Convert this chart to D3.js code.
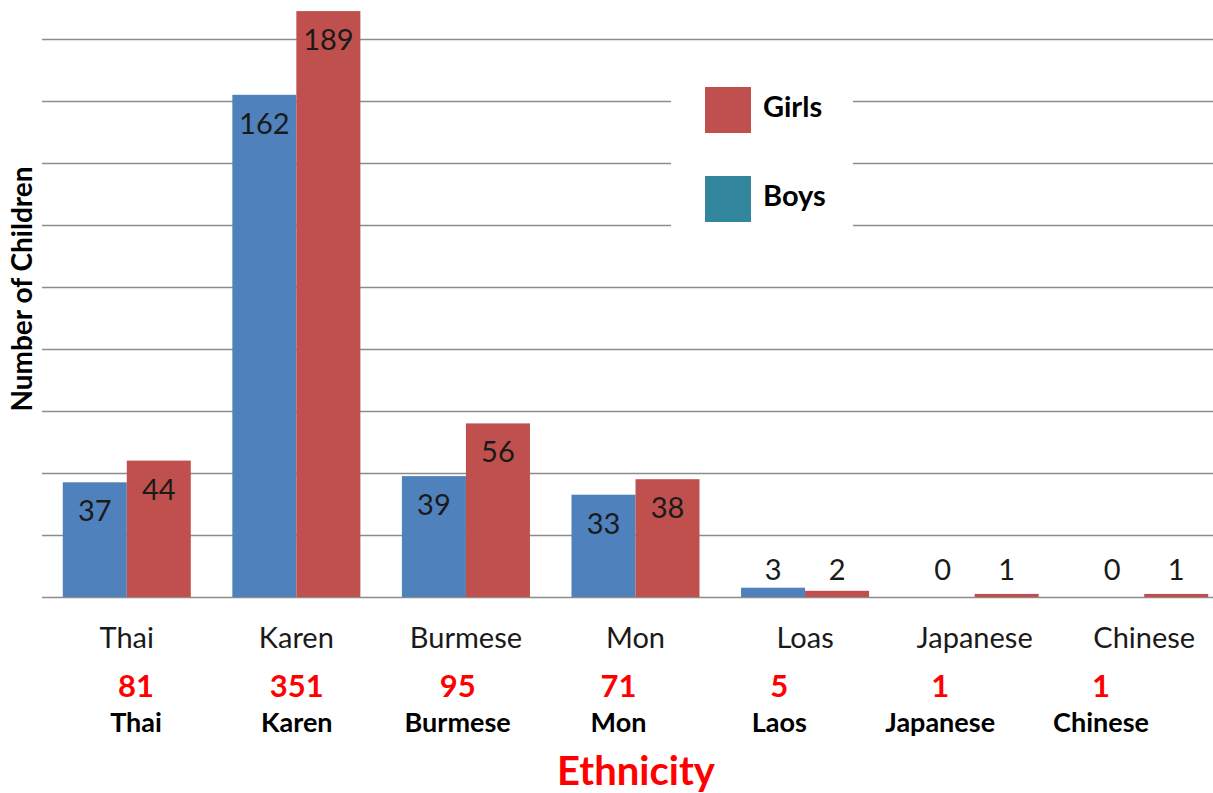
<!DOCTYPE html>
<html>
<head>
<meta charset="utf-8">
<script src="https://cdn.jsdelivr.net/npm/d3@7"></script>
<style>
  body { margin: 0; background: #fff; }
  svg { display: block; font-family: Lato, 'Noto Sans', sans-serif; }
</style>
</head>
<body>
<script>
var categories = ['Thai', 'Karen', 'Burmese', 'Mon', 'Loas', 'Japanese', 'Chinese'];
var totalNames = ['Thai', 'Karen', 'Burmese', 'Mon', 'Laos', 'Japanese', 'Chinese'];
var boys = [37, 162, 39, 33, 3, 0, 0];
var girls = [44, 189, 56, 38, 2, 1, 1];
var yTicks = [0, 20, 40, 60, 80, 100, 120, 140, 160, 180];

var width = 1213, height = 793;
var colors = { boys: '#4f81bd', girls: '#c0504d', boysKey: '#31859c' };

var svg = d3.select('body').append('svg')
  .attr('width', width)
  .attr('height', height);

var x = d3.scaleBand()
  .domain(categories)
  .range([42, 1229])
  .paddingInner(0.245)
  .paddingOuter(0.1225);

var xSub = d3.scaleBand()
  .domain(['boys', 'girls'])
  .range([0, x.bandwidth()]);

var y = d3.scaleLinear()
  .domain([0, 180])
  .range([597, 39]);

// gridlines
svg.append('g')
  .selectAll('line')
  .data(yTicks)
  .enter().append('line')
  .attr('x1', 42)
  .attr('x2', width)
  .attr('y1', function(d) { return Math.round(y(d)) + 0.5; })
  .attr('y2', function(d) { return Math.round(y(d)) + 0.5; })
  .attr('stroke', '#8c8c8c')
  .attr('stroke-width', 1.6);

var rows = categories.map(function(c, i) {
  return { cat: c, boys: boys[i], girls: girls[i], total: boys[i] + girls[i], name: totalNames[i] };
});

var group = svg.selectAll('.group')
  .data(rows)
  .enter().append('g')
  .attr('class', 'group')
  .attr('transform', function(d) { return 'translate(' + x(d.cat) + ',0)'; });

['boys', 'girls'].forEach(function(key) {
  group.append('rect')
    .attr('x', xSub(key))
    .attr('width', xSub.bandwidth())
    .attr('y', function(d) { return y(d[key]); })
    .attr('height', function(d) { return y(0) - y(d[key]); })
    .attr('fill', colors[key]);

  group.append('text')
    .attr('x', xSub(key) + xSub.bandwidth() / 2)
    .attr('y', function(d) {
      var h = y(0) - y(d[key]);
      return h > 40 ? y(d[key]) + 39 : y(0) - 17;
    })
    .attr('text-anchor', 'middle')
    .attr('fill', '#1a1a1a')
    .style('font-size', '29px')
    .text(function(d) { return d[key]; });
});

// category axis labels
svg.append('g')
  .selectAll('text')
  .data(categories)
  .enter().append('text')
  .attr('x', function(d) { return x(d) + x.bandwidth() / 2; })
  .attr('y', 648)
  .attr('text-anchor', 'middle')
  .attr('fill', '#1a1a1a')
  .style('font-size', '29px')
  .text(function(d) { return d; });

// totals row
var xTot = d3.scalePoint()
  .domain(categories)
  .range([136, 1101]);

svg.append('g')
  .selectAll('text')
  .data(rows)
  .enter().append('text')
  .attr('x', function(d) { return xTot(d.cat); })
  .attr('y', 697)
  .attr('text-anchor', 'middle')
  .attr('fill', '#ff0000')
  .style('font-size', '31px')
  .style('font-weight', 'bold')
  .text(function(d) { return d.total; });

svg.append('g')
  .selectAll('text')
  .data(rows)
  .enter().append('text')
  .attr('x', function(d) { return xTot(d.cat); })
  .attr('y', 732)
  .attr('text-anchor', 'middle')
  .attr('fill', '#000')
  .style('font-size', '27px')
  .style('font-weight', 'bold')
  .text(function(d) { return d.name; });

svg.append('text')
  .attr('x', 636)
  .attr('y', 785)
  .attr('text-anchor', 'middle')
  .attr('fill', '#ff0000')
  .style('font-size', '40px')
  .style('font-weight', 'bold')
  .text('Ethnicity');

svg.append('text')
  .attr('transform', 'translate(32,289) rotate(-90)')
  .attr('text-anchor', 'middle')
  .attr('fill', '#000')
  .style('font-size', '28px')
  .style('font-weight', 'bold')
  .text('Number of Children');

// legend
var legend = svg.append('g').attr('transform', 'translate(671,72)');
legend.append('rect')
  .attr('width', 182)
  .attr('height', 160)
  .attr('fill', '#fff');

var keys = [
  { label: 'Girls', color: colors.girls },
  { label: 'Boys', color: colors.boysKey }
];

var item = legend.selectAll('.legend-item')
  .data(keys)
  .enter().append('g')
  .attr('class', 'legend-item')
  .attr('transform', function(d, i) { return 'translate(34,' + (15 + i * 89) + ')'; });

item.append('rect')
  .attr('width', 46)
  .attr('height', 46)
  .attr('fill', function(d) { return d.color; });

item.append('text')
  .attr('x', 58)
  .attr('y', 30)
  .attr('fill', '#000')
  .style('font-size', '29px')
  .style('font-weight', 'bold')
  .text(function(d) { return d.label; });
</script>
</body>
</html>
